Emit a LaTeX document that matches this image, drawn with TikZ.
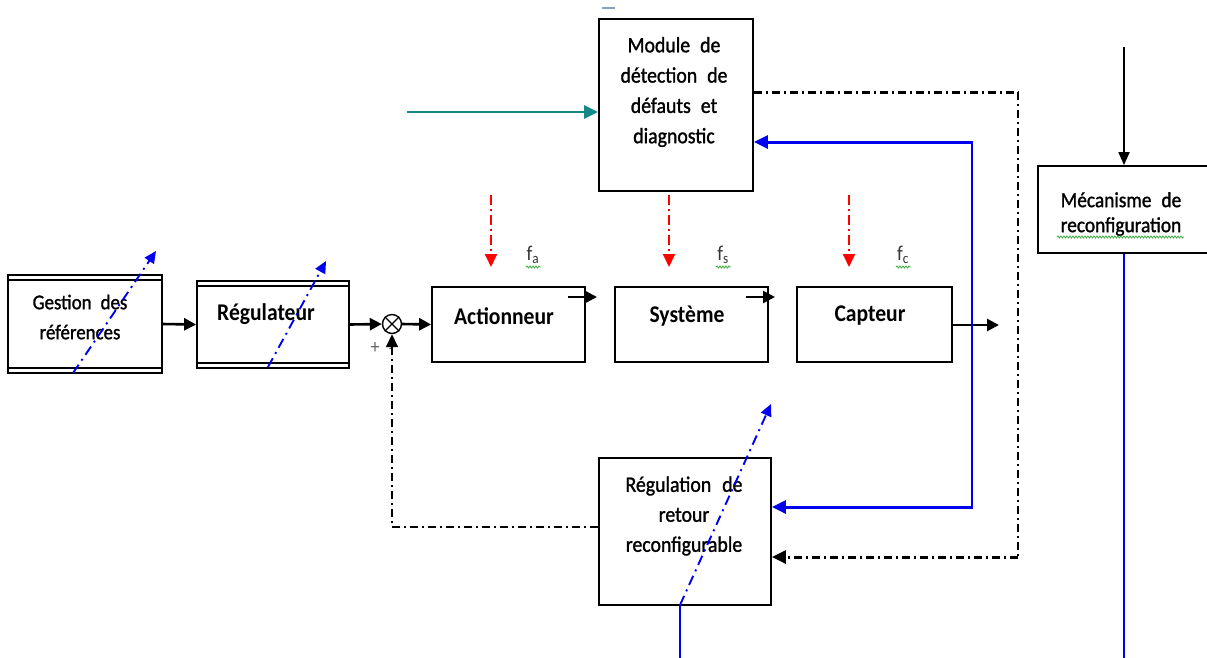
\documentclass[tikz,border=0pt]{standalone}
\usepackage{fontspec}
\setmainfont{Carlito}[FakeStretch=0.9]
\newfontfamily\medfont{Carlito}[FakeStretch=0.9, FakeBold=1.3]
\usetikzlibrary{arrows.meta,decorations.pathmorphing}
\definecolor{tealc}{RGB}{20,135,135}
\definecolor{bluec}{RGB}{0,0,240}
\definecolor{greenc}{RGB}{60,170,60}
\definecolor{markc}{RGB}{140,160,190}
\tikzset{
  box/.style={draw, line width=1.8pt, inner sep=0pt},
  arr/.style={-{Triangle[length=12pt,width=12pt]}, line width=2.6pt},
  ddash/.style={dash pattern=on 8pt off 4pt on 2pt off 4pt},
  redarr/.style={red, line width=1.8pt, dash pattern=on 10pt off 4pt on 2pt off 4pt, -{Triangle[length=13pt,width=12pt]}},
  bluedd/.style={bluec, line width=1.9pt, dash pattern=on 10pt off 5pt on 2pt off 5pt, -{Triangle[length=12pt,width=11pt]}},
  bluearr/.style={bluec, line width=3pt, -{Triangle[length=14pt,width=13pt]}},
  squig/.style={greenc, line width=0.8pt, decorate, decoration={snake, amplitude=1pt, segment length=3pt}},
  lbl/.style={align=center, inner sep=0pt},
}
\begin{document}
\begin{tikzpicture}[x=1pt,y=-1pt]
\useasboundingbox (0,0) rectangle (1207,657);
\clip (0,0) rectangle (1207,657);

% boxes
\node[box, minimum width=154pt, minimum height=98pt] (gest) at (85,324) {};
\draw[line width=1.8pt] ([yshift=-6pt]gest.north west) -- ([yshift=-6pt]gest.north east);
\draw[line width=1.8pt] ([yshift=6pt]gest.south west) -- ([yshift=6pt]gest.south east);
\node[box, minimum width=152pt, minimum height=87pt] (reg) at (273,324.5) {};
\draw[line width=1.8pt] ([yshift=-6pt]reg.north west) -- ([yshift=-6pt]reg.north east);
\draw[line width=1.8pt] ([yshift=6pt]reg.south west) -- ([yshift=6pt]reg.south east);
\node[draw, circle, line width=1.4pt, minimum size=19pt, inner sep=0pt] (sum) at (392,324) {};
\draw[line width=1.2pt] (sum.45) -- (sum.225) (sum.135) -- (sum.315);
\node[box, minimum width=153pt, minimum height=75pt] (act) at (508.5,324.5) {};
\node[box, minimum width=153pt, minimum height=75pt] (sys) at (691.5,324.5) {};
\node[box, minimum width=155pt, minimum height=75pt] (cap) at (874.5,324.5) {};
\node[box, minimum width=154pt, minimum height=172pt] (mod) at (676,105) {};
\node[box, minimum width=172pt, minimum height=147pt] (rr) at (685,531.5) {};
\node[box, minimum width=172pt, minimum height=87pt] (meca) at (1124,209.5) {};

% texts
\node[lbl, font=\medfont\fontsize{21}{30}\selectfont] (gestt) at (80,317) {Gestion\hspace{9pt}des\\références};
\node[lbl, font=\fontsize{24}{28}\bfseries] (regt) at (266,314) {Régulateur};
\node[lbl, font=\fontsize{24}{28}\bfseries] (actt) at (504,316) {Actionneur};
\node[lbl, font=\fontsize{24}{28}\bfseries] (syst) at (687,316) {Système};
\node[lbl, font=\fontsize{24}{28}\bfseries] (capt) at (870,316) {Capteur};
\node[lbl, font=\medfont\fontsize{22}{30.3}\selectfont] (modt) at (674,92) {Module\hspace{10pt}de\\détection\hspace{10pt}de\\défauts\hspace{10pt}et\\diagnostic};
\node[lbl, font=\medfont\fontsize{22}{30}\selectfont] (rrt) at (684,516) {Régulation\hspace{11pt}de\\retour\\reconfigurable};
\node[lbl, font=\medfont\fontsize{21.5}{25}\selectfont] (mecat) at (1121,214) {Mécanisme\hspace{10pt}de\\reconfiguration};
\node[lbl, font=\fontsize{21}{24}\selectfont, text=black!80] (fa) at (533,255) {f\textsubscript{a}};
\node[lbl, font=\fontsize{21}{24}\selectfont, text=black!80] (fs) at (723,255) {f\textsubscript{s}};
\node[lbl, font=\fontsize{21}{24}\selectfont, text=black!80] (fc) at (903,255) {f\textsubscript{c}};
\node[lbl, font=\fontsize{20}{22}\selectfont, text=black!60] (plus) at (375,348) {+};
\node[lbl, font=\fontsize{16}{18}\selectfont, text=black!70] (minus) at (391,351) {-};

% spell-check squiggles
\draw[squig] (526,267) -- (541,267);
\draw[squig] (716,267) -- (731,267);
\draw[squig] (896,267) -- (911,267);
\draw[squig] (1057,237) -- (1184,237);

% main chain
\draw[arr] (gest.east) -- (reg.west);
\draw[arr] (reg.east) -- (sum.west);
\draw[arr] (sum.east) -- (act.west);
\coordinate (a1) at (568,297); \coordinate (a2) at (597,297);
\draw[arr] (a1) -- (a2);
\coordinate (s1) at (746,297); \coordinate (s2) at (775,297);
\draw[arr] (s1) -- (s2);
\coordinate (cout) at (999,325);
\draw[arr] (cap.east |- cout) -- (cout);

% red fault arrows
\coordinate (ra1) at (491,195); \coordinate (ra2) at (491,267);
\coordinate (rs1) at (669,195); \coordinate (rs2) at (669,267);
\coordinate (rc1) at (849,195); \coordinate (rc2) at (849,267);
\draw[redarr] (ra1) -- (ra2);
\draw[redarr] (rs1) -- (rs2);
\draw[redarr] (rc1) -- (rc2);

% teal input to module
\coordinate (tin) at (407,112);
\draw[tealc, line width=2.6pt, -{Triangle[length=14pt,width=13pt]}] (tin) -- (tin -| mod.west);

% blue feedback from sensor side
\coordinate (bt) at (972,142); \coordinate (bb) at (972,507);
\draw[bluec, line width=1.8pt] (bt) -- (bb);
\draw[bluearr] ([xshift=1pt]bt) -- (bt -| mod.east);
\draw[bluearr] ([xshift=1pt]bb) -- (bb -| rr.east);

% black dash-dot from module
\coordinate (d1) at (1018,92); \coordinate (d2) at (1018,557);
\draw[line width=3pt, ddash] (d1 -| mod.east) -- (d1);
\draw[line width=1.6pt, ddash] (d1) -- (d2);
\draw[line width=3pt, ddash, -{Triangle[length=14pt,width=13pt]}] (d2) -- (d2 -| rr.east);

% dash-dot feedback to summing junction
\coordinate (fb) at (392,527);
\draw[line width=1.6pt, ddash, -{Triangle[length=13pt,width=12pt]}] (fb -| rr.west) -- (fb) -- (sum.south);

% reconfiguration mechanism
\coordinate (mtop) at (1124,47);
\draw[line width=1.8pt, -{Triangle[length=13pt,width=11pt]}] (mtop) -- (meca.north);
\coordinate (mbot) at (1124,660);
\draw[bluec, line width=1.5pt] (meca.south) -- (mbot);

% blue adaptive arrows
\coordinate (g1) at (73,373); \coordinate (g2) at (156,251);
\draw[bluedd] (g1) -- (g2);
\coordinate (r1) at (268,367); \coordinate (r2) at (326,261);
\draw[bluedd] (r1) -- (r2);
\coordinate (q1) at (680,605); \coordinate (q2) at (771,404);
\draw[bluedd] (q1) -- (q2);
\coordinate (q0) at (680,660);
\draw[bluec, line width=1.5pt] (q0) -- (q1);

% small mark at the top
\coordinate (m1) at (602,8); \coordinate (m2) at (615,8);
\draw[markc, line width=1.5pt] (m1) -- (m2);
\end{tikzpicture}
\end{document}
